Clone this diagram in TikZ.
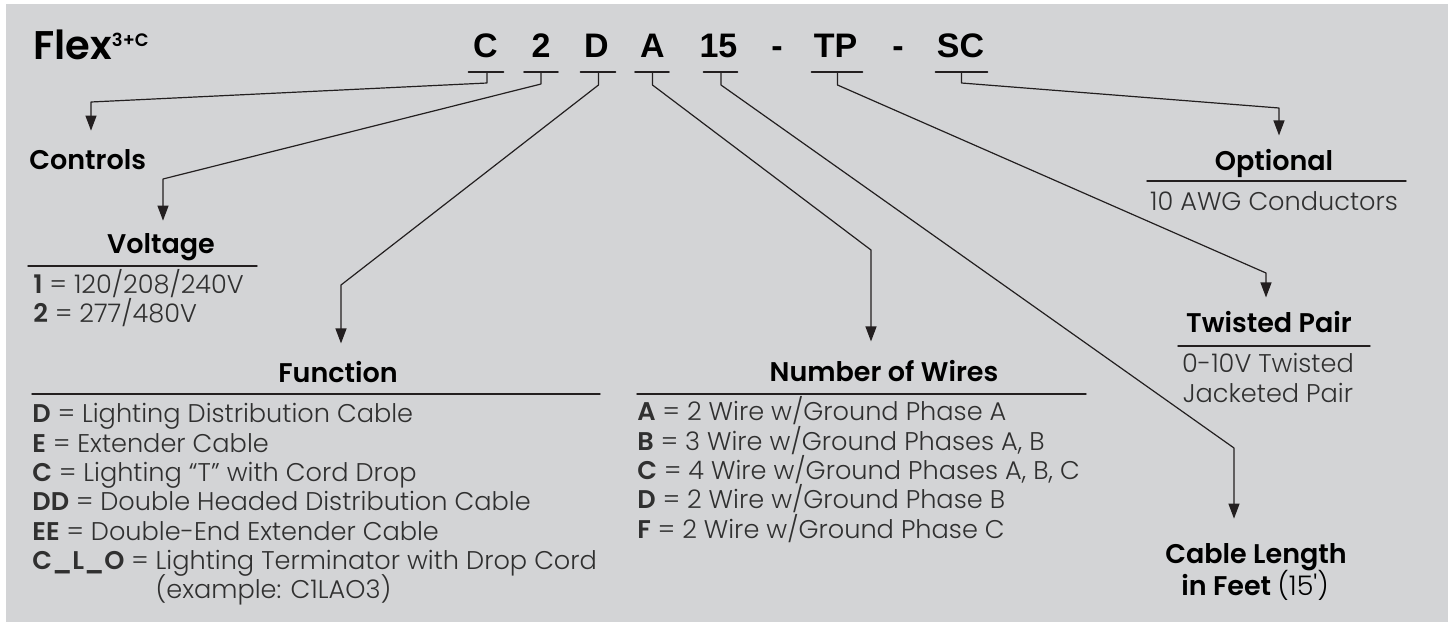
\documentclass[tikz,border=0pt]{standalone}
\usepackage{fontspec}
\setmainfont{Poppins}[UprightFont=* Light, BoldFont=* SemiBold]
\newfontfamily\codefont{Liberation Sans}
\usepackage{xcolor}
\usepackage{tikz}
\usetikzlibrary{arrows.meta}

\definecolor{panel}{RGB}{211,212,214}
\definecolor{ink}{RGB}{35,31,32}
\definecolor{txt}{RGB}{48,48,48}

\tikzset{
  code/.style={anchor=base,inner sep=0pt,text=black,font=\codefont\bfseries\fontsize{17}{17}\selectfont},
  head/.style={anchor=base,inner sep=0pt,text=black,font=\bfseries\fontsize{13.5}{14}\selectfont},
  item/.style={anchor=base west,inner sep=0pt,text=txt,font=\fontsize{12.8}{14}\selectfont},
  bar/.style={ink,line width=0.8pt},
  rule/.style={ink,line width=0.7pt},
  lead/.style={ink,line width=0.6pt,->}
}

\begin{document}
\begin{tikzpicture}[line cap=round,line join=round,>={Triangle[length=7.5pt,width=5.5pt]},x=0.5pt,y=-0.5pt]
\useasboundingbox (0,0) rectangle (1453,622);
\fill[white] (0,0) rectangle (1453,622);
\fill[panel] (6,4) rectangle (1448,622);

% title and part number
\draw (33,59) node[head,anchor=base west,font=\bfseries\fontsize{20}{20}\selectfont] (flex) {Flex\raisebox{6.5pt}{\fontsize{9}{9}\selectfont 3+C}};
\draw (485.5,57) node[code] (cC) {C};
\draw (541,57) node[code] (c2) {2};
\draw (596.5,57) node[code] (cD) {D};
\draw (652.5,57) node[code] (cA) {A};
\draw (718.5,57) node[code] (c15) {15};
\draw (777,57) node[code] (dash1) {-};
\draw (835.5,57) node[code] (cTP) {TP};
\draw (898,57) node[code] (dash2) {-};
\draw (960.5,57) node[code] (cSC) {SC};
\draw[bar] (cC.base) ++(-17,15) -- ++(35,0);
\draw[bar] (c2.base) ++(-17,15) -- ++(34,0);
\draw[bar] (cD.base) ++(-16,15) -- ++(35,0);
\draw[bar] (cA.base) ++(-17.5,15) -- ++(34,0);
\draw[bar] (c15.base) ++(-15,15) -- ++(34,0);
\draw[bar] (cTP.base) ++(-24,15) -- ++(51,0);
\draw[bar] (cSC.base) ++(-25,15) -- ++(52,0);

% headings
\draw (29,169) node[head,anchor=base west] (ctrl) {Controls};
\draw (161,253) node[head] (volt) {Voltage};
\draw (338,382) node[head] (func) {Function};
\draw (884,381) node[head] (wires) {Number of Wires};
\draw (1274,170) node[head] (opt) {Optional};
\draw (1269,332) node[head] (tpair) {Twisted Pair};
\draw (1256,563) node[head] (len) {Cable Length};
\draw (1255,595) node[head] (len2) {in Feet {\mdseries(15\textquotesingle)}};

% rules
\draw[rule] (28,266) -- (257,266);
\draw[rule] (32,394) -- (600,394);
\draw[rule] (637,394) -- (1086,394);
\draw[rule] (1147,181) -- (1406,181);
\draw[rule] (1178,346) -- (1370,346);

% leaders
\coordinate (kC) at (91,102);
\coordinate (kV) at (163,179);
\coordinate (kF) at (341,285);
\coordinate (kW) at (871,250);
\coordinate (kL) at (1234,448);
\coordinate (kT) at (1266,273);
\coordinate (kO) at (1279,108);
\draw[lead,shorten >=9pt] (cC.base) ++(1.5,15) -- ++(0,11) -- (kC) -- (kC |- ctrl.north);
\draw[lead,shorten >=6pt] (c2.base) ++(0,15) -- ++(0,12) -- (kV) -- (kV |- volt.north);
\draw[lead,shorten >=8.5pt] (cD.base) ++(2,15) -- ++(0,13) -- (kF) -- (kF |- func.north);
\draw[lead,shorten >=9pt] (cA.base) ++(0,15) -- ++(0,13) -- (kW) -- (kW |- wires.north);
\draw[lead,shorten >=12pt] (c15.base) ++(2.5,15) -- ++(0,13) -- (kL) -- (kL |- len.north);
\draw[lead,shorten >=6.5pt] (cTP.base) ++(2,15) -- ++(0,13) -- (kT) -- (kT |- tpair.north);
\draw[lead,shorten >=6.5pt] (cSC.base) ++(1,15) -- ++(0,11) -- (kO) -- (kO |- opt.north);

% voltage
\draw (33,293) node[item] (v1) {\textbf{1} = 120/208/240V};
\draw (33,322) node[item] (v2) {\textbf{2} = 277/480V};

% function
\draw (32,422) node[item] (f1) {\textbf{D} = Lighting Distribution Cable};
\draw (32,452) node[item] (f2) {\textbf{E} = Extender Cable};
\draw (32,481) node[item] (f3) {\textbf{C} = Lighting “T” with Cord Drop};
\draw (32,510) node[item] (f4) {\textbf{DD} = Double Headed Distribution Cable};
\draw (32,540) node[item] (f5) {\textbf{EE} = Double-End Extender Cable};
\draw (32,569) node[item] (f6) {\textbf{C\_L\_O} = Lighting Terminator with Drop Cord};
\draw (32,598) node[item] (f7) {\phantom{\textbf{C\_L\_O} =} (example: C1LAO3)};

% number of wires
\draw (637,420) node[item] (w1) {\textbf{A} = 2 Wire w/Ground Phase A};
\draw (637,450) node[item] (w2) {\textbf{B} = 3 Wire w/Ground Phases A, B};
\draw (637,479) node[item] (w3) {\textbf{C} = 4 Wire w/Ground Phases A, B, C};
\draw (637,508) node[item] (w4) {\textbf{D} = 2 Wire w/Ground Phase B};
\draw (637,538) node[item] (w5) {\textbf{F} = 2 Wire w/Ground Phase C};

% optional, twisted pair
\draw (1274,210) node[item,anchor=base] (o1) {10 AWG Conductors};
\draw (1268,372) node[item,anchor=base] (t1) {0-10V Twisted};
\draw (1268,402) node[item,anchor=base] (t2) {Jacketed Pair};
\end{tikzpicture}
\end{document}
